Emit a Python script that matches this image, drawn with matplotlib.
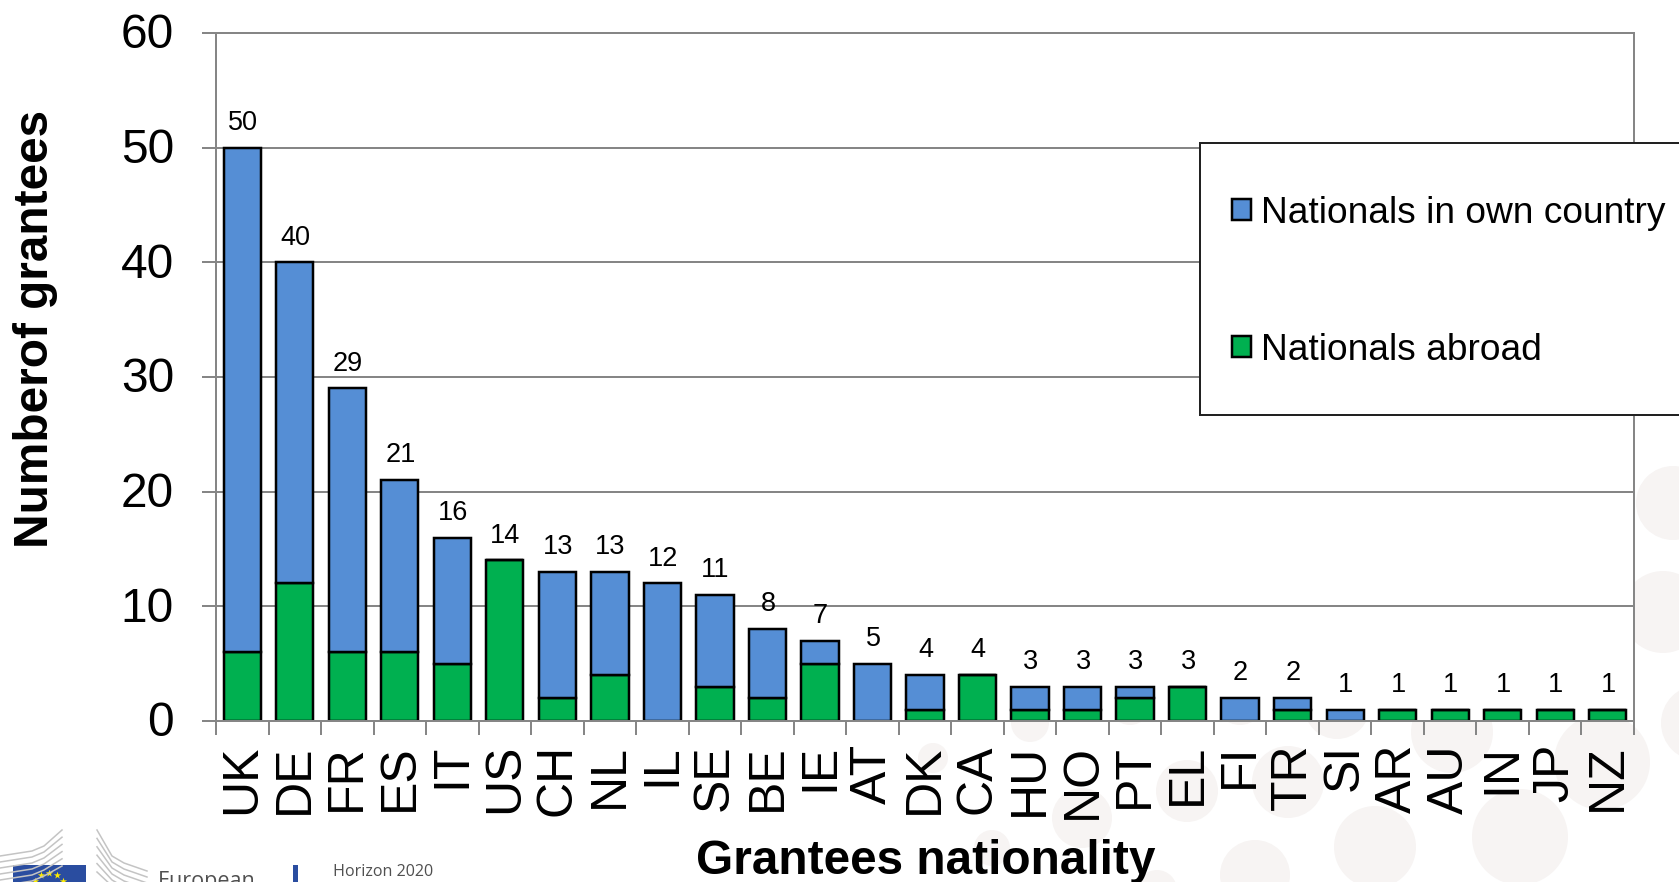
import matplotlib
matplotlib.use('Agg')
import matplotlib.pyplot as plt
from matplotlib.patches import Circle, Rectangle
from matplotlib.transforms import ScaledTranslation

#%%Data

countries = ['UK', 'DE', 'FR', 'ES', 'IT', 'US', 'CH', 'NL', 'IL', 'SE', 'BE', 'IE', 'AT', 'DK',
             'CA', 'HU', 'NO', 'PT', 'EL', 'FI', 'TR', 'SI', 'AR', 'AU', 'IN', 'JP', 'NZ']
nationals_abroad = [6, 12, 6, 6, 5, 14, 2, 4, 0, 3, 2, 5, 0, 1, 4, 1, 1, 2, 3, 0, 1, 0, 1, 1, 1, 1, 1]
nationals_home = [44, 28, 23, 15, 11, 0, 11, 9, 12, 8, 6, 2, 5, 3, 0, 2, 2, 1, 0, 2, 1, 1, 0, 0, 0, 0, 0]
totals = [50, 40, 29, 21, 16, 14, 13, 13, 12, 11, 8, 7, 5, 4, 4, 3, 3, 3, 3, 2, 2, 1, 1, 1, 1, 1, 1]

W, H = 1679, 882
BLUE = '#558ED5'
GREEN = '#00B050'
GREY = '#868686'
PX = 72 / 100  # one pixel in points

plt.rcParams['font.family'] = ['Liberation Sans', 'DejaVu Sans']

fig = plt.figure(figsize=(W / 100, H / 100), dpi=100, facecolor='white')

#%%Slide background: dots and logos, in pixel coordinates

bg = fig.add_axes([0, 0, 1, 1], zorder=0)
bg.set_xlim(0, W)
bg.set_ylim(H, 0)
bg.axis('off')

dots = [(933, 758, 15), (1030, 723, 19), (1082, 818, 30), (1187, 791, 31), (992, 848, 18),
        (1255, 875, 35), (1157, 890, 20), (1130, 704, 21), (1240, 700, 25), (1288, 782, 36),
        (1337, 706, 33), (1452, 732, 41), (1375, 847, 41), (1520, 837, 48), (1602, 762, 48),
        (1699, 723, 38), (1673, 503, 37), (1663, 612, 41)]
for x, y, r in dots:
    bg.add_patch(Circle((x, y), r, color='#F7F4F3', lw=0))

for i in range(6):
    off = i * 6
    bg.plot([0, 32, 44, 62], [856 + off, 851 + off, 846 + off, 830 + off * 1.2], color='#C4C4C4', lw=1.1)
    bg.plot([97, 112, 124, 147], [830 + off * 1.4, 856 + off, 863 + off, 871 + off], color='#C4C4C4', lw=1.1)

bg.add_patch(Rectangle((13, 865), 73, 30, color='#2A4DA0', lw=0))
bg.scatter([49, 41, 57, 35, 63], [873, 875, 875, 881, 881], marker='*', s=30, color='#FFED00', lw=0)
bg.add_patch(Rectangle((293, 865), 5, 30, color='#2A4DA0', lw=0))
bg.text(333, 876, 'Horizon 2020', family='Open Sans', fontsize=11.6, color='#505050', va='baseline')
bg.text(158, 887, 'European', family='Open Sans', fontsize=15.5, color='#505050', va='baseline')

#%%Bars

ax = fig.add_axes([216 / W, 1 - 721 / H, (1634 - 216) / W, (721 - 33) / H], zorder=1, facecolor='white')
pos = list(range(len(countries)))
abroad_bars = ax.bar(pos, nationals_abroad, width=0.71, color=GREEN, edgecolor='black', linewidth=2.5 * PX, zorder=2)
home_bars = ax.bar(pos, nationals_home, width=0.71, bottom=nationals_abroad, color=BLUE,
                   edgecolor='black', linewidth=2.5 * PX, zorder=2)

for p, t in zip(pos, totals):
    ax.annotate(str(t), (p + 0.01, t), xytext=(0, 12.8), textcoords='offset points', ha='center', va='baseline', fontsize=19.5)

ax.set_xlim(-0.5, len(countries) - 0.5)
ax.set_ylim(0, 60)
ax.set_yticks(range(0, 61, 10))
ax.yaxis.grid(True, color=GREY, lw=2 * PX, zorder=1)
ax.set_axisbelow(True)
ax.set_xticks(pos)
ax.set_xticklabels(countries, rotation=90, fontsize=36)
ax.set_xticks([p - 0.5 for p in pos] + [len(countries) - 0.5], minor=True)
ax.tick_params(axis='x', which='major', length=0, pad=23 * PX)
ax.tick_params(axis='x', which='minor', length=14 * PX, width=2 * PX, color=GREY)
ax.tick_params(axis='y', labelsize=34.5, length=14 * PX, width=2 * PX, color=GREY, pad=28 * PX)
for lab in ax.get_yticklabels():
    lab.set_transform(lab.get_transform() + ScaledTranslation(0, 2 / 100, fig.dpi_scale_trans))
for s in ax.spines.values():
    s.set_color(GREY)
    s.set_linewidth(2 * PX)

fig.text(36 / W, 1 - 329 / H, 'Numberof grantees', rotation=90, fontsize=34.4, fontweight='bold', ha='center', va='center')
fig.text(926 / W, 1 - 874 / H, 'Grantees nationality', fontsize=34.4, fontweight='bold', ha='center', va='baseline')

#%%Legend box runs off the slide

top = fig.add_axes([0, 0, 1, 1], zorder=2)
top.set_xlim(0, W)
top.set_ylim(H, 0)
top.axis('off')
top.patch.set_alpha(0)
top.add_patch(Rectangle((1199.5, 143), 520, 272, facecolor='white', edgecolor='#222222', lw=2 * PX))
top.legend([home_bars, abroad_bars], ['Nationals in own country', 'Nationals abroad'],
           loc='upper left', bbox_to_anchor=(1232, 196), bbox_transform=top.transData,
           frameon=False, fontsize=26.7, borderpad=0, borderaxespad=0,
           handlelength=0.5, handleheight=0.5, handletextpad=0.27, labelspacing=2.75)

fig.savefig('out.png', dpi=100)
